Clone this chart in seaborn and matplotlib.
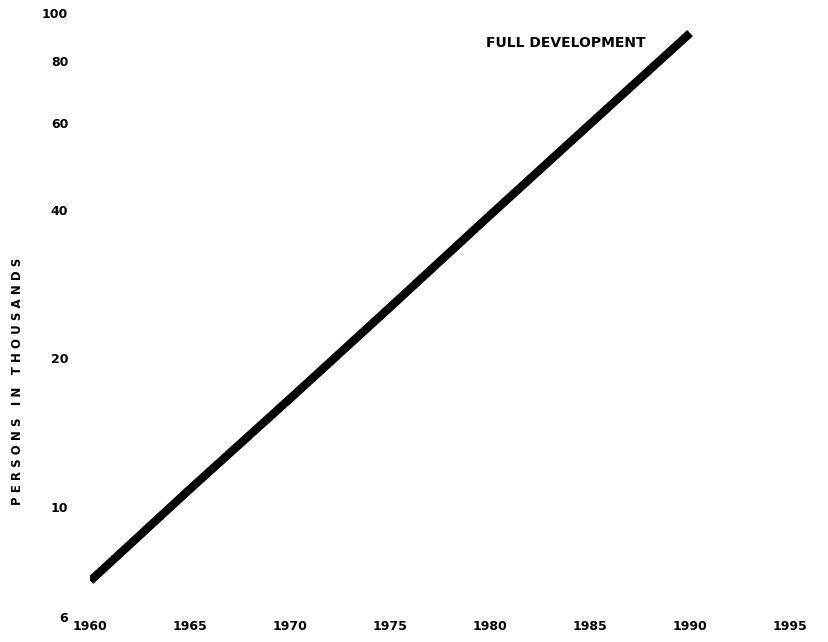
import pandas as pd
import numpy as np
import matplotlib.pyplot as plt
import seaborn as sns

sns.set_style("white")
plt.rcParams['font.family'] = ['DejaVu Sans']
plt.rcParams['text.color'] = 'black'
plt.rcParams['xtick.color'] = 'black'
plt.rcParams['ytick.color'] = 'black'
plt.rcParams['axes.labelcolor'] = 'black'

anos = [1960, 1965, 1970, 1975, 1980, 1985, 1990]
pessoasMil = [7.1, 10.9, 16.6, 25.4, 39.0, 59.6, 91.0]
ticksY = [6, 10, 20, 40, 60, 80, 100]
ticksX = [1960, 1965, 1970, 1975, 1980, 1985, 1990, 1995]
rotuloTexto = "FULL DEVELOPMENT"

dfPop = pd.DataFrame({'ano': anos, 'pessoas': pessoasMil})

fig = plt.figure(figsize=(8.29, 6.42), dpi=100)
ax = fig.add_axes([0.109, 0.039, 0.844, 0.941])

sns.lineplot(data=dfPop, x='ano', y='pessoas', color='black', linewidth=6,
             solid_capstyle='butt', ax=ax)

ax.set_yscale('log')
ax.set_ylim(6, 100)
ax.set_xlim(1960, 1995)
ax.set_yticks(ticksY)
ax.set_yticklabels([str(t) for t in ticksY])
ax.minorticks_off()
ax.set_xticks(ticksX)
ax.set_xticklabels([str(t) for t in ticksX])
ax.tick_params(axis='both', length=0, labelsize=9)
ax.tick_params(axis='y', pad=16)
ax.tick_params(axis='x', pad=2)
for lbl in ax.get_xticklabels() + ax.get_yticklabels():
    lbl.set_fontweight('bold')

sns.despine(ax=ax, left=True, bottom=True)
ax.set_xlabel("")
ax.set_ylabel("P E R S O N S   I N   T H O U S A N D S", fontsize=8.5, fontweight='bold')
ax.yaxis.set_label_coords(-0.095, 0.39)

ax.text(1987.8, 87, rotuloTexto, fontsize=10, fontweight='bold', ha='right', va='center')

plt.savefig("out.png", dpi=100)
